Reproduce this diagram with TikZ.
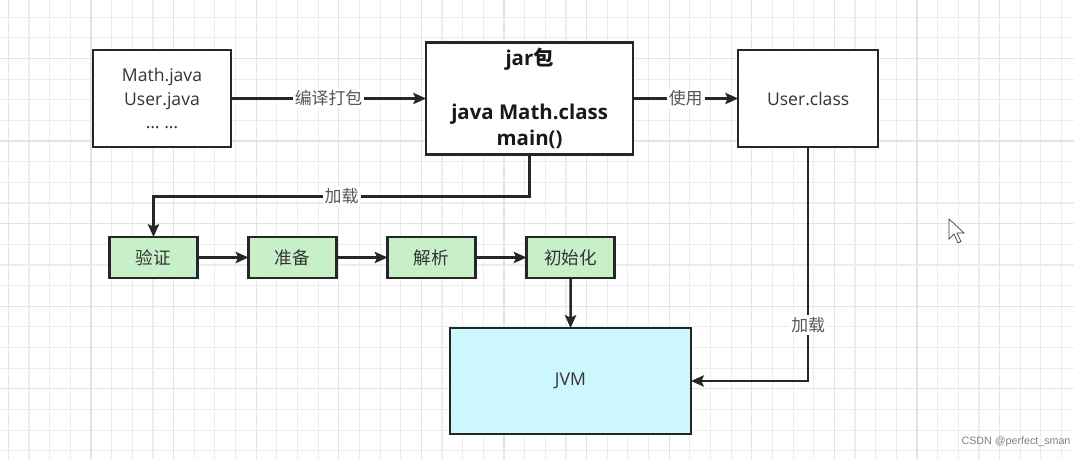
\documentclass[tikz,border=0pt]{standalone}
\usepackage{fontspec}
\setmainfont{Open Sans}
\newfontfamily\cjk{Noto Sans CJK SC}
\newfontfamily\wmfont{Liberation Sans}
\usetikzlibrary{arrows.meta,positioning}
\definecolor{boxtext}{HTML}{333333}
\definecolor{labeltext}{HTML}{555555}
\definecolor{phasegreen}{HTML}{C8F0C8}
\definecolor{jvmcyan}{HTML}{CCF7FC}
\definecolor{gridminor}{HTML}{ECECEC}
\definecolor{gridmajor}{HTML}{E4E4E4}
\newdimen\hdim
\newdimen\wdim
\newdimen\odim
\hdim=1.025cm
\wdim=2.2cm
\odim=1.275cm
\tikzstyle{element}=[
  draw=black!85,
  fill=white,
  font={\fontsize{12.5}{17}\selectfont},
  text=boxtext,
  align=center,
  inner sep=0pt,
  outer sep=0pt,
  line width=1.8pt,
  rectangle,
]
\tikzstyle{phase}=[
  element,
  fill=phasegreen,
  font={\cjk\fontsize{12.5}{14}\selectfont},
  minimum height=\hdim,
  minimum width=\wdim,
]
\tikzstyle{arrow}=[
  draw=black!85,
  line width=1.8pt,
]
\tikzstyle{arrowlabel}=[
  fill=white,
  text=labeltext,
  font={\cjk\fontsize{12}{14}\selectfont},
  inner sep=1.5pt,
]
\tikzset{
  >={Stealth[length=3.2mm,width=2.8mm,inset=.6mm]},
}

\begin{document}
\begin{tikzpicture}[x=0.025cm, y=-0.025cm]
    \useasboundingbox (0,0) rectangle (1074,459);
    %% canvas grid
    \foreach \i in {0,...,51}
      \draw [gridminor, line width=.8pt] (8.4+\i*20.65,0) -- ++(0,459);
    \foreach \j in {0,...,21}
      \draw [gridminor, line width=.8pt] (0,17.15+\j*20.65) -- ++(1074,0);
    \foreach \i in {0,4,...,48}
      \draw [gridmajor, line width=.9pt] (8.4+\i*20.65,0) -- ++(0,459);
    \foreach \j in {2,6,...,18}
      \draw [gridmajor, line width=.9pt] (0,17.15+\j*20.65) -- ++(1074,0);
    %%
    \node (sources) [element, minimum width=3.45cm, minimum height=2.425cm] at (162,98.5)
      {Math.java\\User.java\\… …};
    \node (jar) [element, minimum width=5.175cm, minimum height=2.8cm, right=4.875cm of sources,
      font={\bfseries\fontsize{14.5}{19}\selectfont}, text=black!90]
      {jar{\cjk 包}\\[19pt]java Math.class\\main()};
    \node (userclass) [element, minimum width=3.5cm, minimum height=2.425cm, right=2.625cm of jar]
      {User.class};
    %%
    \node (verify) [phase] at (153.5,257.5) {验证};
    \node (prepare) [phase, right=\odim of verify] {准备};
    \node (resolve) [phase, right=\odim of prepare] {解析};
    \node (init) [phase, right=\odim of resolve] {初始化};
    \node (jvm) [element, fill=jvmcyan, minimum width=6.025cm, minimum height=2.65cm] at (570.5,381) {JVM};
    %%
    \draw [->, arrow] (sources) -- node [arrowlabel] {编译打包} (jar);
    \draw [->, arrow] (jar) -- node [arrowlabel] {使用} (userclass);
    \draw [->, arrow] (jar.south) -- ++(0,42) -| node [arrowlabel, pos=.25] {加载} (verify.north);
    \draw [->, arrow] (verify) -- (prepare);
    \draw [->, arrow] (prepare) -- (resolve);
    \draw [->, arrow] (resolve) -- (init);
    \draw [->, arrow] (init) -- (jvm);
    \draw [->, arrow] (userclass.south) |- node [arrowlabel, pos=.38] {加载} (jvm.east);
    %%
    \draw [fill=white, draw=black!75, line width=.5pt] (949,219) -- (949,239) -- (954,234)
      -- (958,243) -- (961,241.5) -- (957,233) -- (964,233) -- cycle;
    \node (watermark) [font={\wmfont\fontsize{7.6}{9}\selectfont}, text=black!50] at (1016,442)
      {CSDN @perfect\_sman};
  \end{tikzpicture}
\end{document}
